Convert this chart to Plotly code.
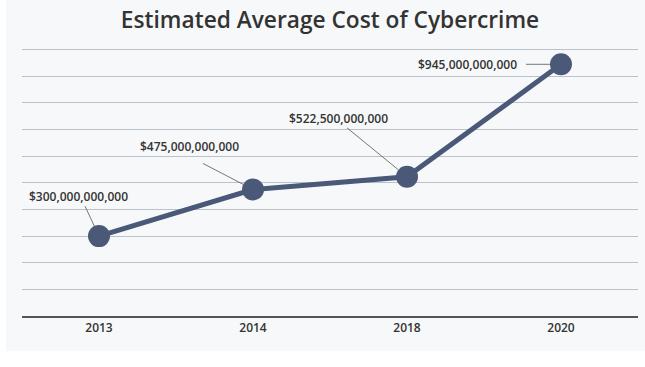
import math
import plotly.graph_objects as go

years = ["2013", "2014", "2018", "2020"]
costs = [300e9, 475e9, 522.5e9, 945e9]
labels = ["$300,000,000,000", "$475,000,000,000", "$522,500,000,000", "$945,000,000,000"]

# label offsets (px, y up) relative to the point, and leader-line tail offsets
text_dx = [-21, -64, -69, -94]
text_dy = [40, 43, 58, 0]
lead_dx = [-14, -50, -60, -35]
lead_dy = [30, 26, 49, 0]
STANDOFF = 11

LINE = "#4a5977"
TXT = "#333333"
BG = "#f7f8fa"

fig = go.Figure()
fig.add_trace(go.Scatter(
    x=years, y=costs, mode="lines+markers",
    line=dict(color=LINE, width=5),
    marker=dict(color=LINE, size=22),
    hoverinfo="skip", showlegend=False,
))

shapes = [dict(
    type="rect", xref="paper", yref="paper",
    x0=-16 / 616, x1=623 / 616, y0=-35 / 269, y1=319 / 269,
    fillcolor=BG, line=dict(width=0), layer="below",
)]

for i in range(len(years)):
    d = math.hypot(lead_dx[i], lead_dy[i])
    hx = lead_dx[i] * STANDOFF / d
    hy = lead_dy[i] * STANDOFF / d
    shapes.append(dict(
        type="line", xref="x", yref="y",
        xsizemode="pixel", ysizemode="pixel",
        xanchor=i, yanchor=costs[i],
        x0=lead_dx[i], y0=lead_dy[i], x1=hx, y1=hy,
        line=dict(color="#555555", width=0.8), layer="above",
    ))
    fig.add_annotation(
        x=i, y=costs[i], xref="x", yref="y",
        text=labels[i].replace("$", "&#36;"), showarrow=False,
        xshift=text_dx[i], yshift=text_dy[i],
        font=dict(family="Open Sans", size=12, color=TXT, weight=600),
    )

fig.update_layout(
    width=645, height=367,
    margin=dict(l=22, r=7, t=47, b=51),
    paper_bgcolor="white",
    plot_bgcolor="rgba(0,0,0,0)",
    title=dict(
        text="Estimated Average Cost of Cybercrime",
        x=0.5, xref="paper", xanchor="center",
        y=1 - 20 / 367, yref="container", yanchor="middle",
        font=dict(family="Open Sans", size=22.7, color=TXT, weight=600),
    ),
    shapes=shapes,
    xaxis=dict(
        type="category", range=[-0.5, 3.5],
        showgrid=False, showline=True, linecolor="#555555", linewidth=2,
        ticks="", tickfont=dict(family="Open Sans", size=12, color=TXT, weight=600),
        fixedrange=True,
    ),
    yaxis=dict(
        range=[0, 1010e9], dtick=100e9, showticklabels=False,
        showgrid=True, gridcolor="#bcc2ca", gridwidth=1,
        zeroline=False, showline=False, ticks="", fixedrange=True,
    ),
)

fig.write_html("out.html", config={"displayModeBar": False},
               post_script="document.body.style.margin='0';")
